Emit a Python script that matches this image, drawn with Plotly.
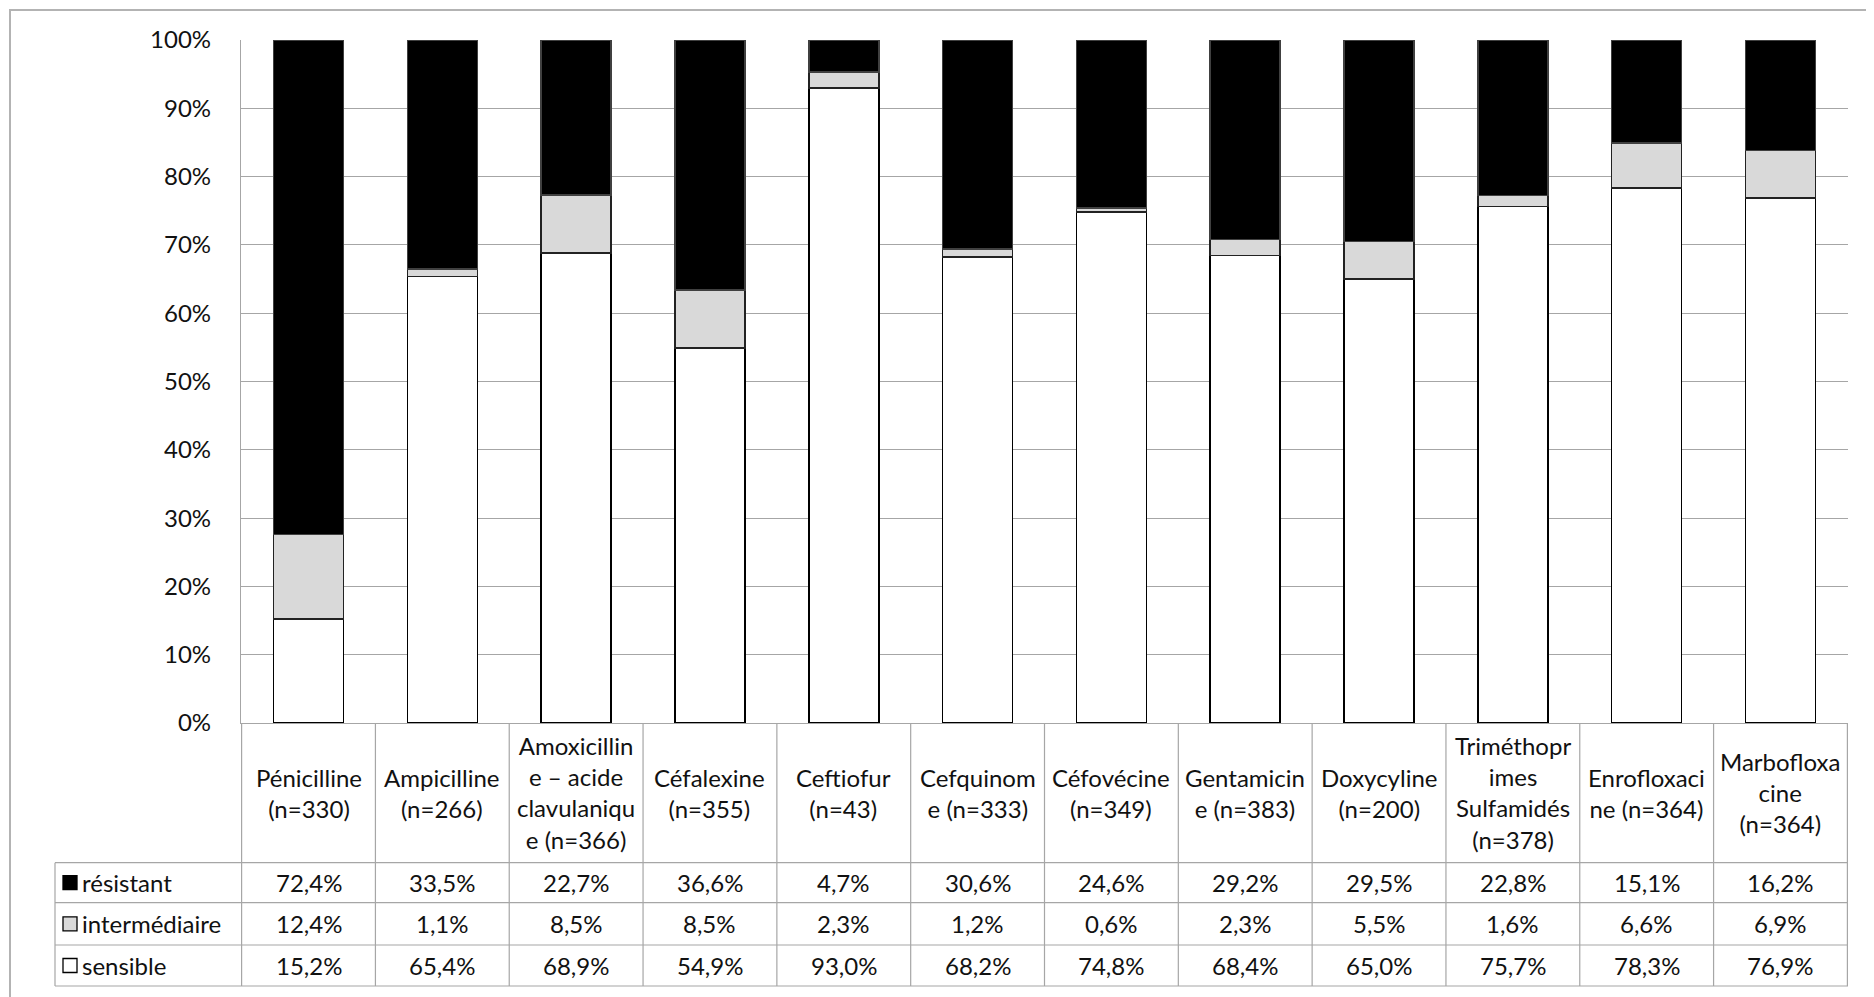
import plotly.graph_objects as go

# data
antibiotics = ["Pénicilline", "Ampicilline", "Amoxicilline – acide clavulanique", "Céfalexine",
               "Ceftiofur", "Cefquinome", "Céfovécine", "Gentamicine", "Doxycyline",
               "Triméthoprimes Sulfamidés", "Enrofloxacine", "Marbofloxacine"]
header_labels = ["Pénicilline<br>(n=330)", "Ampicilline<br>(n=266)",
                 "Amoxicillin<br>e – acide<br>clavulaniqu<br>e (n=366)", "Céfalexine<br>(n=355)",
                 "Ceftiofur<br>(n=43)", "Cefquinom<br>e (n=333)", "Céfovécine<br>(n=349)",
                 "Gentamicin<br>e (n=383)", "Doxycyline<br>(n=200)",
                 "Triméthopr<br>imes<br>Sulfamidés<br>(n=378)", "Enrofloxaci<br>ne (n=364)",
                 "Marbofloxa<br>cine<br>(n=364)"]
resistant = [72.4, 33.5, 22.7, 36.6, 4.7, 30.6, 24.6, 29.2, 29.5, 22.8, 15.1, 16.2]
intermediaire = [12.4, 1.1, 8.5, 8.5, 2.3, 1.2, 0.6, 2.3, 5.5, 1.6, 6.6, 6.9]
sensible = [15.2, 65.4, 68.9, 54.9, 93.0, 68.2, 74.8, 68.4, 65.0, 75.7, 78.3, 76.9]

series = [
    ("sensible", sensible, "white", "black"),
    ("intermédiaire", intermediaire, "#d9d9d9", "#222222"),
    ("résistant", resistant, "black", "#404040"),
]
# table rows, top to bottom
table_rows = [("résistant", resistant, "black"),
              ("intermédiaire", intermediaire, "#d9d9d9"),
              ("sensible", sensible, "white")]

# the page body has an 8px margin; positions below are page pixels
OFF = 8
W, H = 1874 - OFF, 997 - OFF
L, R, T, B = 241 - OFF, 1848 - OFF, 40 - OFF, 723 - OFF
FONT = "Lato, Open Sans, sans-serif"
FS = 24
TXT = "#111111"
GRID = "#a6a6a6"


def px_x(px):
    return (px - OFF - L) / (R - L)


def px_y(py):
    return (B - (py - OFF)) / (B - T)


fig = go.Figure()
for name, vals, fill, edge in series:
    fig.add_trace(go.Bar(
        x=antibiotics, y=vals, name=name,
        marker=dict(color=fill, line=dict(color=edge, width=1.5)),
        showlegend=False,
    ))

shapes = []
annotations = []

# outer chart border (top and left edges are the only visible ones)
shapes.append(dict(type="line", xref="paper", yref="paper",
                   x0=px_x(9), x1=px_x(1874), y0=px_y(10), y1=px_y(10),
                   line=dict(color="#b3b3b3", width=2)))
shapes.append(dict(type="line", xref="paper", yref="paper",
                   x0=px_x(10), x1=px_x(10), y0=px_y(10), y1=px_y(997),
                   line=dict(color="#b3b3b3", width=2)))

# data table geometry (page pixels)
header_bottom = 862.7
row_edges = [862.7, 902.7, 945.0, 986.0]
legend_left = 55
plot_bottom = 723

n = len(antibiotics)
for i in range(n + 1):
    shapes.append(dict(type="line", xref="x", yref="paper",
                       x0=i - 0.5, x1=i - 0.5, y0=px_y(plot_bottom), y1=px_y(row_edges[-1]),
                       line=dict(color=GRID, width=1.2)))
shapes.append(dict(type="line", xref="paper", yref="paper",
                   x0=px_x(legend_left), x1=px_x(legend_left),
                   y0=px_y(row_edges[0]), y1=px_y(row_edges[-1]),
                   line=dict(color=GRID, width=1.2)))
for ry in row_edges:
    shapes.append(dict(type="line", xref="paper", yref="paper",
                       x0=px_x(legend_left), x1=1, y0=px_y(ry), y1=px_y(ry),
                       line=dict(color=GRID, width=1.2)))

# header cells
for name, lab in zip(antibiotics, header_labels):
    annotations.append(dict(x=name, y=px_y((plot_bottom + header_bottom) / 2),
                            xref="x", yref="paper",
                            text=lab, showarrow=False, align="center",
                            xanchor="center", yanchor="middle",
                            font=dict(family=FONT, size=FS, color=TXT)))

# data rows
for r, (label, vals, key) in enumerate(table_rows):
    yc = (row_edges[r] + row_edges[r + 1]) / 2
    shapes.append(dict(type="rect", xref="paper", yref="paper",
                       x0=px_x(63), x1=px_x(77), y0=px_y(yc + 7), y1=px_y(yc - 7),
                       fillcolor=key, line=dict(color="black", width=1.3)))
    annotations.append(dict(x=px_x(80), y=px_y(yc), xref="paper", yref="paper",
                            text=label, showarrow=False, xanchor="left", yanchor="middle",
                            font=dict(family=FONT, size=FS, color=TXT)))
    for name, v in zip(antibiotics, vals):
        annotations.append(dict(x=name, y=px_y(yc), xref="x", yref="paper",
                                text=f"{v:.1f}".replace(".", ",") + "%",
                                showarrow=False, xanchor="center", yanchor="middle",
                                font=dict(family=FONT, size=FS, color=TXT)))

fig.update_layout(
    width=W, height=H,
    margin=dict(l=L, r=W - R, t=T, b=H - B),
    barmode="stack", barnorm="percent", bargap=0.477,
    plot_bgcolor="white", paper_bgcolor="white",
    shapes=shapes, annotations=annotations,
    font=dict(family=FONT, size=FS, color=TXT),
)
fig.update_xaxes(showticklabels=False, showgrid=False, showline=True,
                 linecolor=GRID, linewidth=1.2, ticks="")
fig.update_yaxes(range=[0, 100], dtick=10, ticksuffix="%", showgrid=True,
                 gridcolor=GRID, gridwidth=1.2, showline=True, linecolor=GRID,
                 linewidth=1.2, zeroline=False, ticks="", ticklabelstandoff=24,
                 tickfont=dict(family=FONT, size=FS, color=TXT))

fig.write_html("out.html")
